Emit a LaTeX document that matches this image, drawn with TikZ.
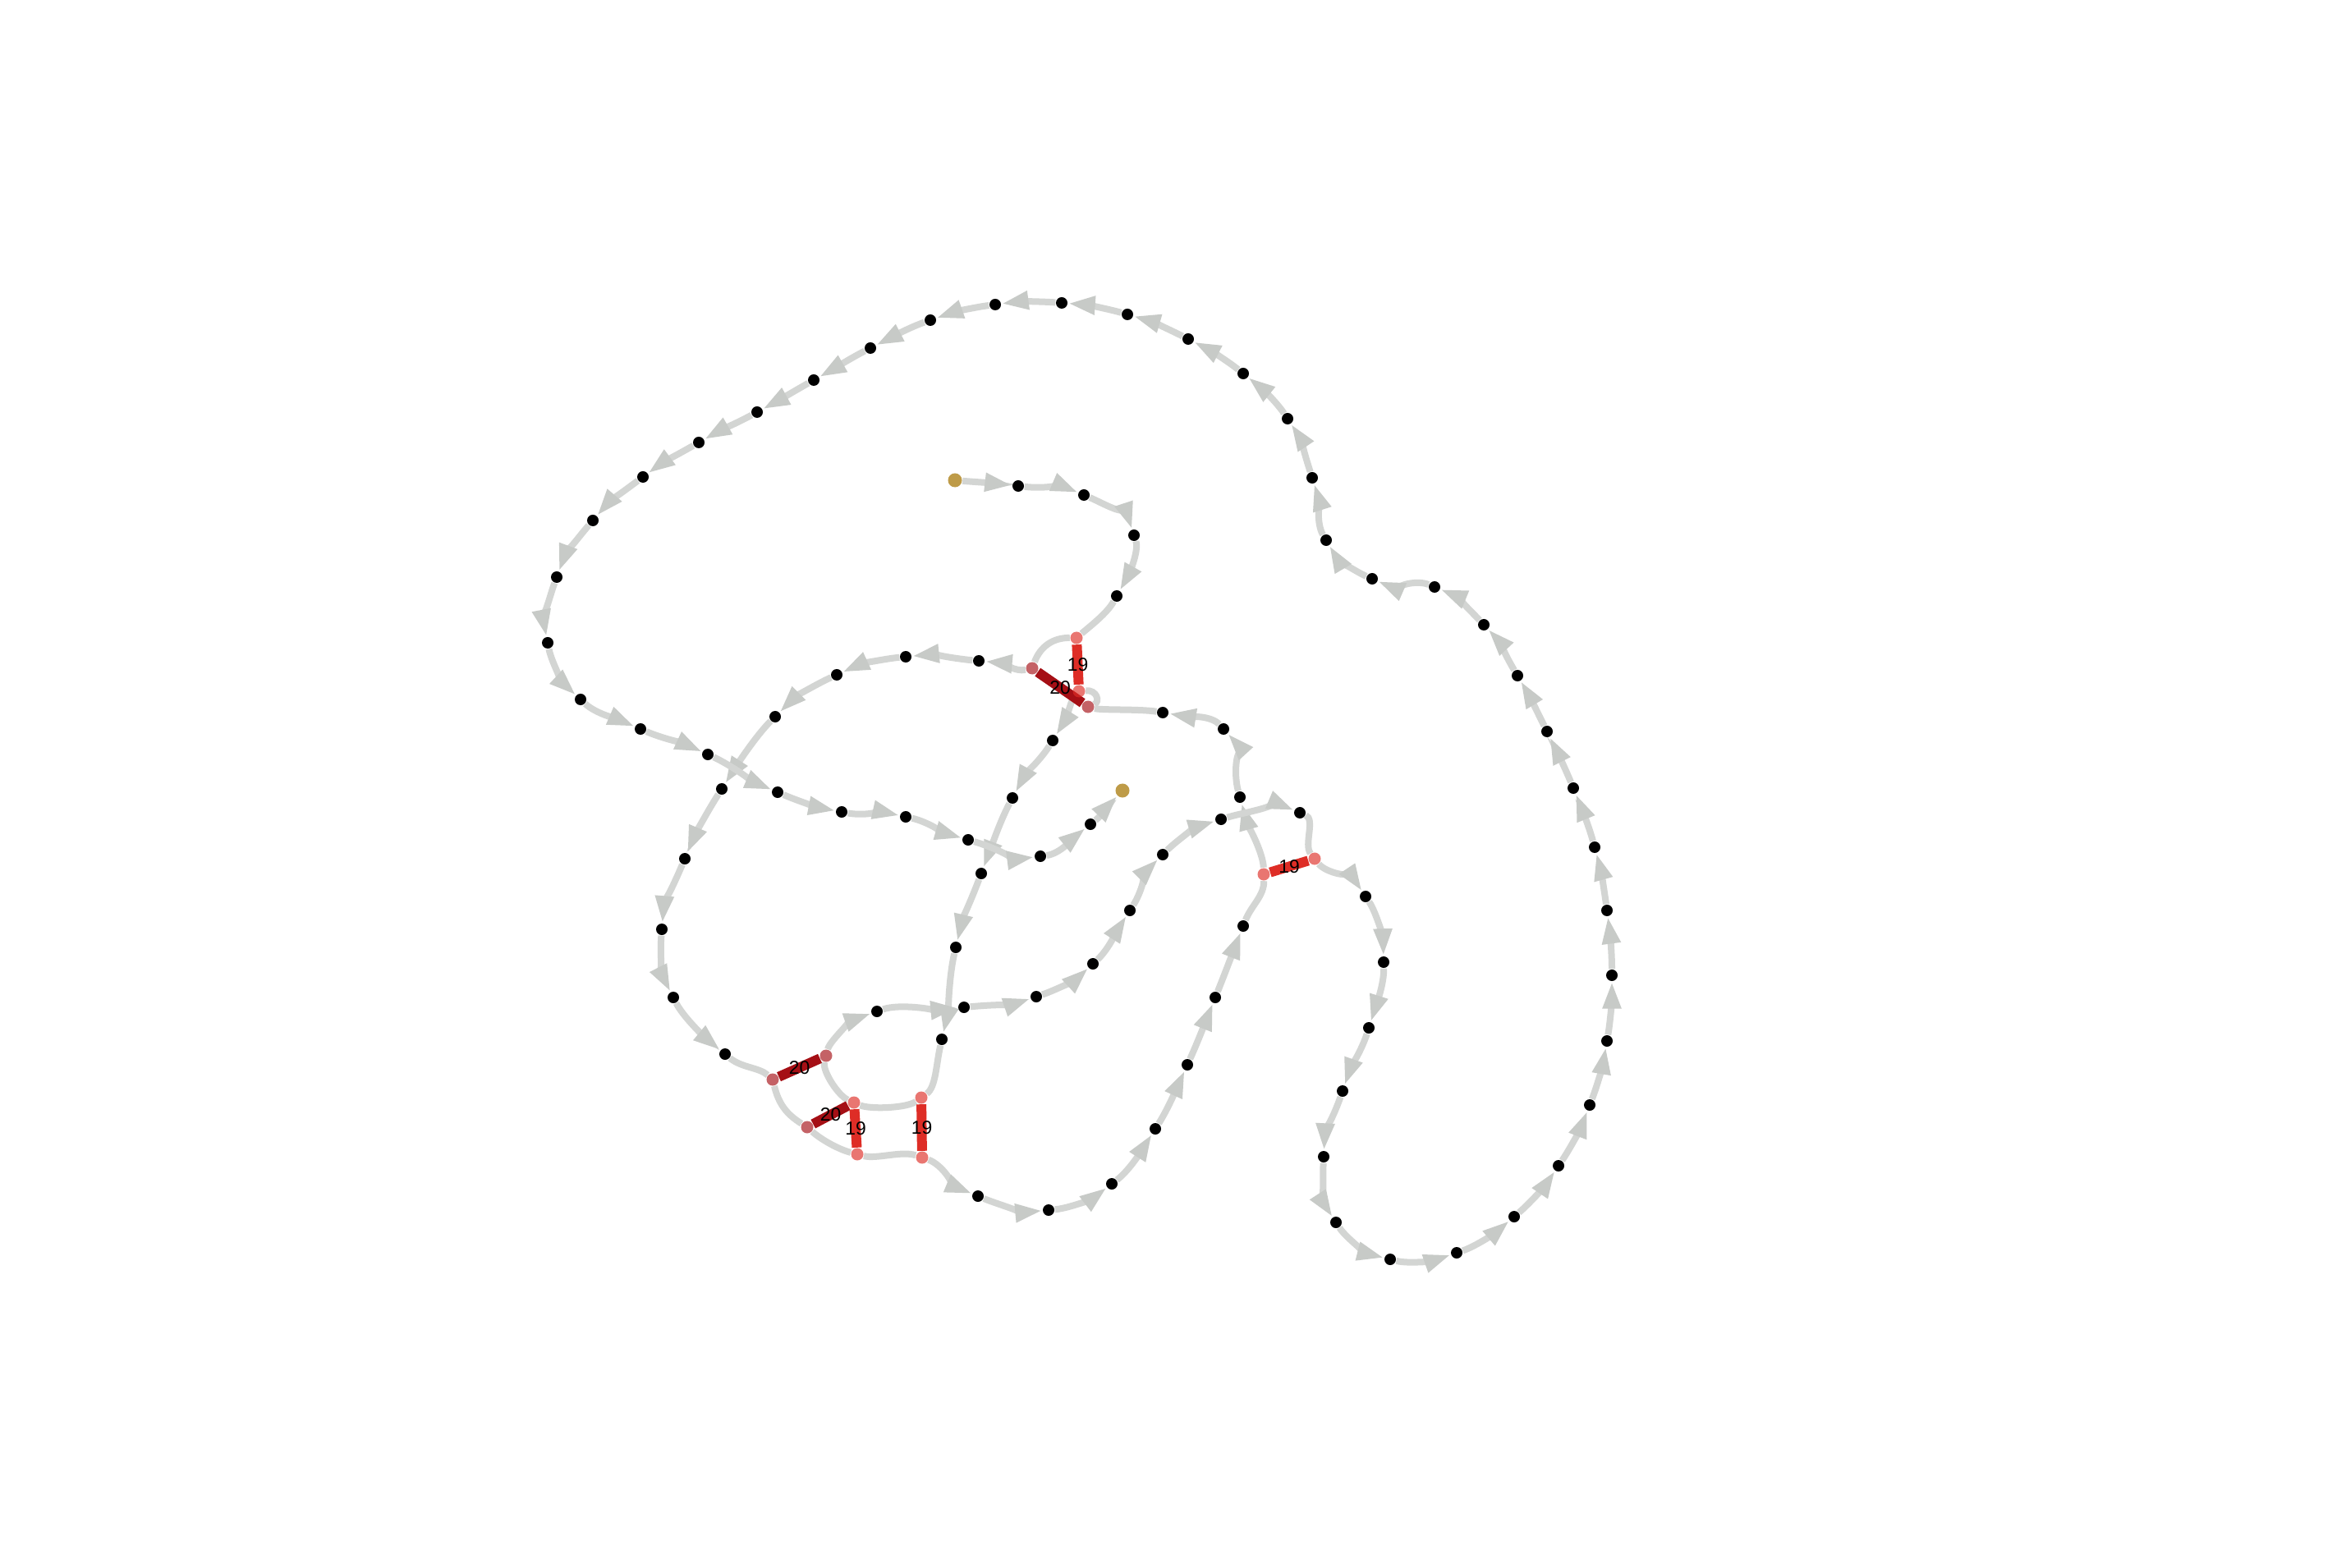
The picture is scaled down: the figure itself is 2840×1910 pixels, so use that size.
\documentclass[tikz,border=0pt]{standalone}
\usepackage{fontspec}
\setmainfont{Liberation Sans}
\usetikzlibrary{arrows.meta,calc,backgrounds}
\definecolor{chaingray}{RGB}{211,213,211}
\definecolor{tipgray}{RGB}{199,202,199}
\definecolor{contactlow}{RGB}{222,45,38}
\definecolor{contacthigh}{RGB}{165,15,21}
\definecolor{termgold}{RGB}{190,155,72}

\begin{document}
\begin{tikzpicture}[x={(0.01cm,0cm)},y={(0cm,-0.01cm)},
  res/.style={circle,fill=black,inner sep=0pt,minimum size=1.4mm},
  term/.style={circle,fill=termgold,inner sep=0pt,minimum size=1.7mm},
  ctc19/.style={circle,fill=contactlow,fill opacity=.65,inner sep=0pt,minimum size=1.5mm},
  ctc20/.style={ctc19,fill=contacthigh},
  bb/.style={chaingray,line width=.8mm},
  bbarr/.style={bb,-{Triangle[length=3.3mm,width=2.1mm,color=tipgray]}},
  into res/.style={bbarr},
  into term/.style={bbarr},
  into ctc19/.style={bb},
  into ctc20/.style={bb},
  contact/.style={line width=1.2mm},
  lbl/.style={font=\fontsize{6.5}{7}\selectfont,inner sep=0pt,text=black}]
 \useasboundingbox (0,0) rectangle (2840,1910);
 % Residues along the chain, start and end in gold.
 \foreach \px/\py/\kd [count=\n] in {
   1163/585/term, 1240/592/res, 1320/603/res, 1381/652/res, 1360/726/res,
   1311/777/ctc19, 1257/814/ctc20, 1192/805/res, 1103/800/res, 1019/822/res,
   944/873/res, 879/961/res, 834/1046/res, 806/1132/res, 820/1215/res,
   883/1284/res, 941/1315/ctc20, 983/1373/ctc20, 1044/1406/ctc19, 1123/1410/ctc19,
   1191/1457/res, 1277/1474/res, 1354/1442/res, 1407/1375/res, 1446/1297/res,
   1480/1215/res, 1514/1128/res, 1539/1065/ctc19, 1510/971/res, 1490/888/res,
   1416/868/res, 1325/861/ctc20, 1314/842/ctc19, 1282/902/res, 1233/972/res,
   1195/1064/res, 1164/1154/res, 1147/1266/res, 1122/1337/ctc19, 1040/1343/ctc19,
   1006/1286/ctc20, 1068/1232/res, 1174/1227/res, 1262/1214/res, 1331/1174/res,
   1376/1109/res, 1416/1041/res, 1487/998/res, 1583/990/res, 1601/1046/ctc19,
   1663/1092/res, 1685/1172/res, 1667/1252/res, 1635/1329/res, 1612/1409/res,
   1627/1489/res, 1693/1534/res, 1774/1526/res, 1844/1482/res, 1898/1420/res,
   1936/1346/res, 1957/1268/res, 1963/1188/res, 1957/1109/res, 1942/1032/res,
   1916/960/res, 1884/891/res, 1848/823/res, 1807/761/res, 1747/715/res,
   1671/705/res, 1615/658/res, 1598/582/res, 1568/510/res, 1514/455/res,
   1447/413/res, 1373/383/res, 1293/369/res, 1212/371/res, 1133/390/res,
   1060/424/res, 991/463/res, 922/502/res, 851/539/res, 783/581/res,
   722/634/res, 678/703/res, 667/783/res, 707/852/res, 780/888/res,
   862/919/res, 947/965/res, 1025/989/res, 1103/995/res, 1179/1023/res,
   1267/1043/res, 1328/1004/res, 1367/963/term} {
  \node[\kd] (p\n) at (\px,\py) {};
  \expandafter\xdef\csname kind\n\endcsname{\kd}
 }
 \begin{pgfonlayer}{background}
 \fill[white] (0,0) rectangle (2840,1910);
 % Backbone: smooth pieces from one residue to the next.
 \foreach \i in {1,2,...,5,7,8,...,16,18,19,...,31,33,34,...,97} {
  \pgfmathtruncatemacro{\hh}{max(\i-1,1)}
  \pgfmathtruncatemacro{\jj}{\i+1}
  \pgfmathtruncatemacro{\kk}{min(\i+2,98)}
  \edef\tk{\csname kind\jj\endcsname}
  \draw[into \tk] (p\i)
   .. controls ($(p\i)+0.1667*(p\jj)-0.1667*(p\hh)$)
   and ($(p\jj)+0.1667*(p\i)-0.1667*(p\kk)$) .. (p\jj);
 }
 \draw[bb] (p6) to[bend right=35] (p7);
 \draw[bb] (p17) to[bend right=22] (p18);
 \draw[bb] (p32) .. controls +(15,-6) and +(22,-2) .. (p33);
 % Contacts.
 \draw[contact,contactlow] (p6) -- node[lbl] (t1) {19} (p33);
 \draw[contact,contacthigh] (p7) -- node[lbl] (t2) {20} (p32);
 \draw[contact,contacthigh] (p17) -- node[lbl] (t3) {20} (p41);
 \draw[contact,contacthigh] (p18) -- node[lbl] (t4) {20} (p40);
 \draw[contact,contactlow] (p19) -- node[lbl] (t5) {19} (p40);
 \draw[contact,contactlow] (p20) -- node[lbl] (t6) {19} (p39);
 \draw[contact,contactlow] (p28) -- node[lbl] (t7) {19} (p50);
 \end{pgfonlayer}
\end{tikzpicture}
\end{document}
